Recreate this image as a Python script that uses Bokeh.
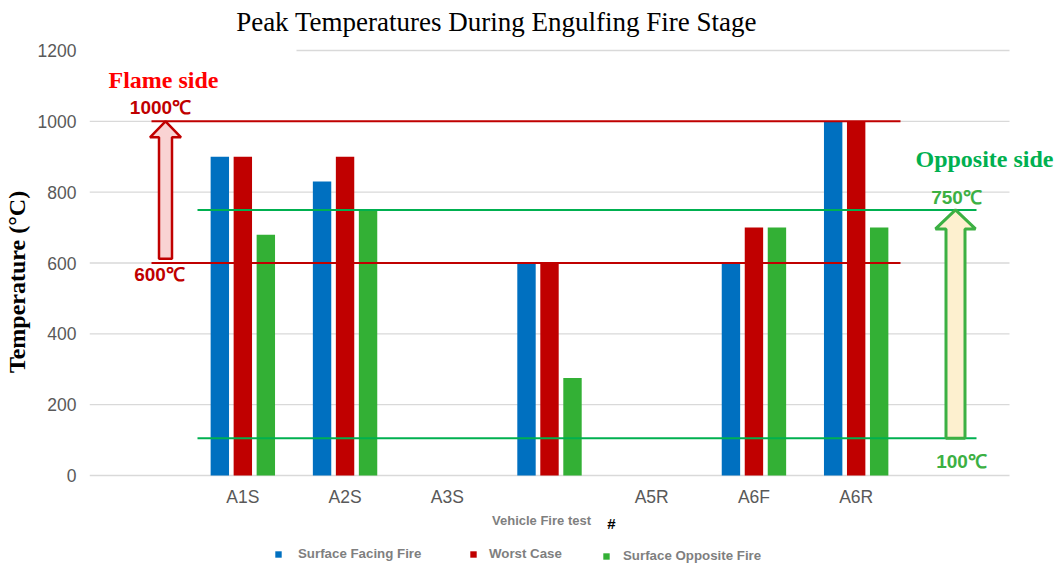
from bokeh.plotting import figure
from bokeh.models import (ColumnDataSource, Label, Legend, LegendItem, FixedTicker,
                          Range1d)
from bokeh.core.properties import value
from bokeh.embed import file_html
from bokeh.resources import INLINE

# ---- data ----
categories = ["A1S", "A2S", "A3S", "", "A5R", "A6F", "A6R"]
facing_fire = [900, 830, 0, 600, 0, 600, 1000]
worst_case = [900, 900, 0, 600, 0, 700, 1000]
opposite_fire = [680, 750, 0, 275, 0, 700, 700]
series_names = ["Surface Facing Fire", "Worst Case", "Surface Opposite Fire"]
series_colors = ["#0070c0", "#c00000", "#33b035"]
flame_limits = [600, 1000]
opposite_limits = [105, 750]
y_ticks = [0, 200, 400, 600, 800, 1000, 1200]

# ---- layout geometry (page pixels) ----
OFF = 1                       # page offset of the figure
W, H = 1055, 563
FRAME_L = 90                  # page x of category -1.5
PX_PER_CAT = 920 / 9.0
Y0_PAGE = 476                 # page y of value 0
PX_PER_UNIT = 425 / 1200.0

x_start = -1.5
x_end = x_start + (W + OFF - FRAME_L) / PX_PER_CAT
y_start = -(H + OFF - Y0_PAGE) / PX_PER_UNIT
y_end = (Y0_PAGE - OFF) / PX_PER_UNIT

def px(xp):
    return x_start + (xp - FRAME_L) / PX_PER_CAT

def py(yp):
    return (Y0_PAGE - yp) / PX_PER_UNIT

p = figure(width=W, height=H, output_backend="svg", toolbar_location=None,
           title=None, x_axis_location=None,
           x_range=Range1d(x_start, x_end), y_range=Range1d(y_start, y_end),
           min_border_left=FRAME_L - OFF, min_border_right=0, min_border_top=0,
           min_border_bottom=0)
p.outline_line_color = None
p.xgrid.grid_line_color = None
p.ygrid.grid_line_color = None

p.yaxis.ticker = FixedTicker(ticks=y_ticks)
p.yaxis.axis_line_color = None
p.yaxis.major_tick_line_color = None
p.yaxis.major_tick_out = 0
p.yaxis.major_tick_in = 0
p.yaxis.minor_tick_line_color = None
p.yaxis.minor_tick_out = 0
p.yaxis.major_label_text_font = "Liberation Sans"
p.yaxis.major_label_text_font_size = "17.5px"
p.yaxis.major_label_text_color = "#595959"
p.yaxis.major_label_standoff = 13
p.yaxis.axis_label = "Temperature (°C)"
p.yaxis.axis_label_text_font = "Liberation Serif"
p.yaxis.axis_label_text_font_size = "24px"
p.yaxis.axis_label_text_font_style = "bold"
p.yaxis.axis_label_text_color = "black"
p.yaxis.axis_label_standoff = 5

# gridlines
grid_x0 = [x_start] * (len(y_ticks) - 1) + [px(297)]
p.segment(x0=grid_x0, x1=[7.5] * len(y_ticks), y0=y_ticks, y1=y_ticks,
          line_color="#d9d9d9", line_width=1.3)

xs = list(range(len(categories)))
offsets = [-0.225, 0.0, 0.225]
bar_w = 0.18
renderers = []
for vals, off, col in zip([facing_fire, worst_case, opposite_fire], offsets, series_colors):
    src = ColumnDataSource(dict(x=[x + off for x in xs], top=vals))
    r = p.vbar(x="x", top="top", bottom=0, width=bar_w, source=src, fill_color=col,
               line_color=None)
    renderers.append(r)

# category labels
p.text(x=xs, y=[py(497.5)] * len(xs), text=categories, text_font=value("Liberation Sans"),
       text_font_size="17.5px", text_color="#595959", text_align="center",
       text_baseline="middle")

# threshold lines
p.segment(x0=[px(152)] * 2, x1=[px(901)] * 2, y0=flame_limits, y1=flame_limits,
          line_color="#c00000", line_width=2)
p.segment(x0=[px(198)] * 2, x1=[px(977)] * 2, y0=opposite_limits, y1=opposite_limits,
          line_color="#00b050", line_width=2)

def arrow(cx, base, tip, shaft_w, head_w, head_h):
    hs, hh = shaft_w / 2, head_w / 2
    neck = tip - head_h
    return ([cx - hs, cx - hs, cx - hh, cx, cx + hh, cx + hs, cx + hs],
            [base, neck, neck, tip, neck, neck, base])

ax, ay = arrow(px(166), flame_limits[0] + 12, flame_limits[1], 13 / PX_PER_CAT,
               31 / PX_PER_CAT, 16 / PX_PER_UNIT)
p.patch(ax, ay, fill_color="#f9d3d3", line_color="#c00000", line_width=2.5)
gx, gy = arrow(px(956), opposite_limits[0], opposite_limits[1], 19 / PX_PER_CAT,
               40 / PX_PER_CAT, 19 / PX_PER_UNIT)
p.patch(gx, gy, fill_color="#fdf0cf", line_color="#3cb043", line_width=3)

def lab(xp, yp, text, size, color, font="Liberation Sans", style="bold"):
    p.add_layout(Label(x=px(xp), y=py(yp), text=text, text_font=font, text_font_size=size,
                       text_color=color, text_font_style=style, text_align="center",
                       text_baseline="middle"))

lab(497, 22, "Peak Temperatures During Engulfing Fire Stage", "27px", "black",
    font="Liberation Serif", style="normal")
lab(164, 80, "Flame side", "24px", "#ff0000", font="Liberation Serif")
lab(161, 108, "1000℃", "19px", "#c00000")
lab(160, 275, "600℃", "19px", "#c00000")
lab(985, 159, "Opposite side", "24px", "#00b050", font="Liberation Serif")
lab(957, 198, "750℃", "19px", "#3cb043")
lab(962, 462, "100℃", "19px", "#3cb043")
lab(542, 521, "Vehicle Fire test", "13px", "#7f7f7f")
lab(612, 524, "#", "15px", "black")

# legends: one per series so each sits where the reference has it
legend_left = [275, 470, 603]
legend_mid = [553, 553, 555]
legend_standoff = [16, 12, 13]
for name, r, lx, ly, so in zip(series_names, renderers, legend_left, legend_mid,
                               legend_standoff):
    lg = Legend(items=[LegendItem(label=name, renderers=[r])],
                location=(lx - FRAME_L, (H + OFF) - ly - 9), padding=0, margin=0,
                label_standoff=so, glyph_width=8, glyph_height=8, label_height=8,
                border_line_color=None, background_fill_alpha=0,
                label_text_font="Liberation Sans", label_text_font_size="13.3px",
                label_text_font_style="bold", label_text_color="#7f7f7f")
    p.add_layout(lg, "center")

open("out.html", "w").write(file_html(p, INLINE))
